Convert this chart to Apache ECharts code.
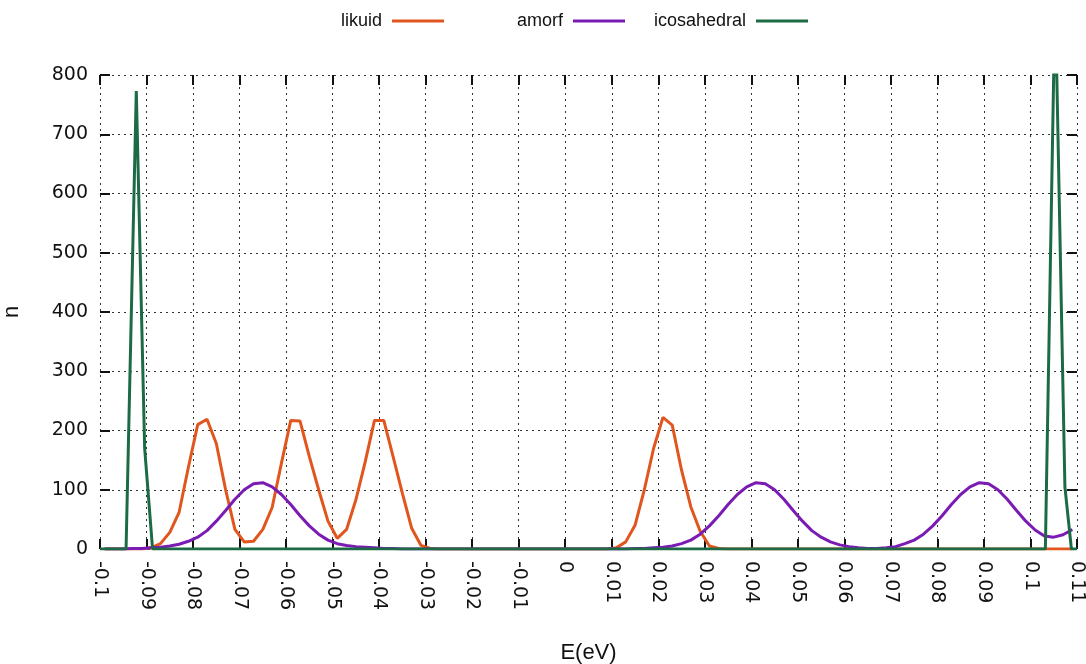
<!DOCTYPE html>
<html>
<head>
<meta charset="utf-8">
<script src="https://cdn.jsdelivr.net/npm/echarts@6/dist/echarts.min.js"></script>
<style>
  html, body { margin: 0; padding: 0; background: #fff; }
  #chart { width: 1086px; height: 664px; }
</style>
</head>
<body>
<div id="chart"></div>
<script>
// energy bins (eV) for likuid / amorf
const energies = [
  -0.099, -0.097, -0.095, -0.093, -0.091, -0.089, -0.087, -0.085, -0.083, -0.081,
  -0.079, -0.077, -0.075, -0.073, -0.071, -0.069, -0.067, -0.065, -0.063, -0.061,
  -0.059, -0.057, -0.055, -0.053, -0.051, -0.049, -0.047, -0.045, -0.043, -0.041,
  -0.039, -0.037, -0.035, -0.033, -0.031, -0.029, -0.027, -0.025, -0.023, -0.021,
  -0.019, -0.017, -0.015, -0.013, -0.011, -0.009, -0.007, -0.005, -0.003, -0.001,
  0.001, 0.003, 0.005, 0.007, 0.009, 0.011, 0.013, 0.015, 0.017, 0.019,
  0.021, 0.023, 0.025, 0.027, 0.029, 0.031, 0.033, 0.035, 0.037, 0.039,
  0.041, 0.043, 0.045, 0.047, 0.049, 0.051, 0.053, 0.055, 0.057, 0.059,
  0.061, 0.063, 0.065, 0.067, 0.069, 0.071, 0.073, 0.075, 0.077, 0.079,
  0.081, 0.083, 0.085, 0.087, 0.089, 0.091, 0.093, 0.095, 0.097, 0.099,
  0.101, 0.103, 0.105, 0.107, 0.109
]

const likuid = [
  0, 0, 0, 0, 0, 2, 9, 28, 62, 138,
  210, 219, 178, 100, 33, 12, 13, 33, 70, 145,
  217, 216, 156, 100, 47, 18, 33, 83, 147, 217,
  217, 156, 94, 35, 6, 1, 0, 0, 0, 0,
  0, 0, 0, 0, 0, 0, 0, 0, 0, 0,
  0, 0, 0, 0, 0, 2, 12, 40, 100, 170,
  222, 209, 133, 71, 30, 5, 1, 0, 0, 0,
  0, 0, 0, 0, 0, 0, 0, 0, 0, 0,
  0, 0, 0, 0, 0, 0, 0, 0, 0, 0,
  0, 0, 0, 0, 0, 0, 0, 0, 0, 0,
  0, 0, 0, 0, 0
]

const amorf = [
  0, 0, 0, 1, 1, 2, 3, 5, 8, 13,
  20, 31, 47, 65, 84, 100, 110, 112, 105, 92,
  75, 56, 39, 25, 15, 9, 6, 4, 3, 2,
  1, 1, 0, 0, 0, 0, 0, 0, 0, 0,
  0, 0, 0, 0, 0, 0, 0, 0, 0, 0,
  0, 0, 0, 0, 0, 0, 0, 1, 1, 2,
  3, 5, 9, 15, 25, 39, 56, 75, 92, 105,
  112, 110, 100, 84, 65, 47, 31, 20, 12, 7,
  4, 2, 1, 1, 2, 4, 9, 15, 25, 39,
  56, 75, 92, 105, 112, 110, 100, 84, 65, 47,
  32, 22, 20, 24, 33
]

// icosahedral: flat at zero except two narrow spikes
const icosaEnergies = [-0.1, -0.0944, -0.0922, -0.0904, -0.0887, 0.1032, 0.1053, 0.1074, 0.1088, 0.11]
const icosahedral = [0, 0, 773, 170, 0, 0, 940, 105, 0, 0]

const seriesNames = ['likuid', 'amorf', 'icosahedral']
const seriesColors = ['#e0561e', '#7a1cb4', '#1d6b45']

const tickFont = 'DejaVu Sans'
const textFont = "'Liberation Sans', Arial, sans-serif"

const pairs = (xs, values) => xs.map((e, i) => [e, values[i]])

const chart = echarts.init(document.getElementById('chart'))

const tickStyle = {show: true, inside: true, length: 10, lineStyle: {color: '#111', width: 2}}
const gridLine = {show: true, lineStyle: {color: '#333', width: 1, type: [2, 4]}}
const noLine = {show: false, onZero: false}

const legendAt = (name, right) => ({
  data: [name],
  right: right,
  top: 12,
  padding: 0,
  align: 'right',
  icon: 'rect',
  itemWidth: 52,
  itemHeight: 3,
  formatter: n => n + ' ',
  textStyle: {fontFamily: textFont, fontSize: 18, color: '#111'}
})

const option = {
  animation: false,
  backgroundColor: '#fff',
  color: seriesColors,
  legend: [
    legendAt('likuid', 642),
    legendAt('amorf', 461),
    legendAt('icosahedral', 278)
  ],
  grid: {left: 100, right: 9, top: 75, bottom: 115, containLabel: false, outerBoundsMode: 'none'},
  xAxis: [
    {
      type: 'value', min: -0.1, max: 0.11, interval: 0.01,
      position: 'bottom',
      name: 'E(eV)', nameLocation: 'middle', nameGap: 93,
      nameTextStyle: {fontFamily: textFont, fontSize: 22, color: '#111'},
      axisLine: noLine,
      axisTick: tickStyle,
      axisLabel: {
        rotate: -90, margin: 12, fontSize: 19, fontFamily: tickFont, color: '#111',
        formatter: v => String(parseFloat(v.toFixed(2)))
      },
      splitLine: gridLine
    },
    {
      type: 'value', min: -0.1, max: 0.11, interval: 0.01,
      position: 'top',
      axisLine: noLine,
      axisTick: tickStyle,
      axisLabel: {show: false},
      splitLine: {show: false}
    }
  ],
  yAxis: [
    {
      type: 'value', min: 0, max: 800, interval: 100,
      position: 'left',
      name: 'n', nameLocation: 'middle', nameGap: 77,
      nameTextStyle: {fontFamily: textFont, fontSize: 22, color: '#111'},
      axisLine: noLine,
      axisTick: tickStyle,
      axisLabel: {margin: 12, fontSize: 19, fontFamily: tickFont, color: '#111'},
      splitLine: gridLine
    },
    {
      type: 'value', min: 0, max: 800, interval: 100,
      position: 'right',
      axisLine: noLine,
      axisTick: tickStyle,
      axisLabel: {show: false},
      splitLine: {show: false}
    }
  ],
  series: [
    {name: seriesNames[0], type: 'line', symbol: 'none', lineStyle: {width: 3}, data: pairs(energies, likuid)},
    {name: seriesNames[1], type: 'line', symbol: 'none', lineStyle: {width: 3}, data: pairs(energies, amorf)},
    {name: seriesNames[2], type: 'line', symbol: 'none', lineStyle: {width: 3}, data: pairs(icosaEnergies, icosahedral)}
  ]
}

chart.setOption(option)
</script>
</body>
</html>
